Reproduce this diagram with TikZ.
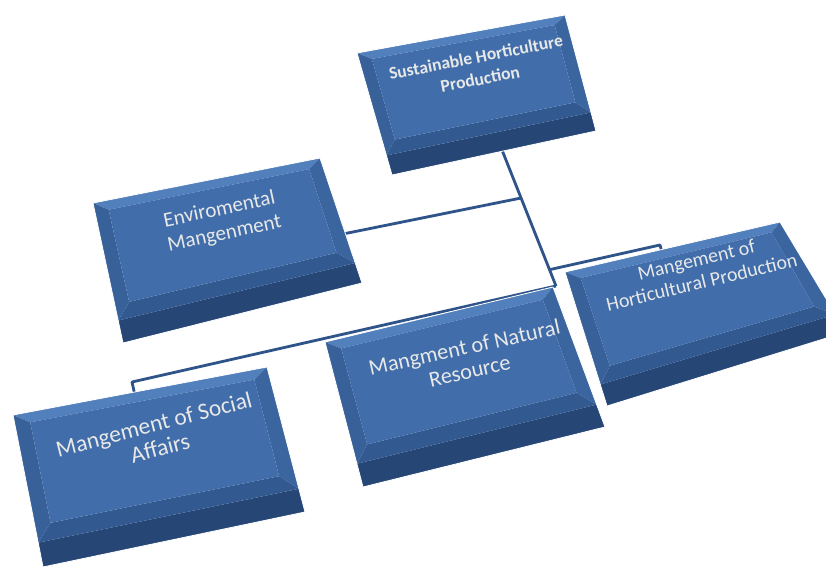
\documentclass[tikz,border=0pt]{standalone}
\usepackage{fontspec}
\setmainfont{Carlito}
\usetikzlibrary{calc}
\definecolor{bxface}{RGB}{65,110,170}
\definecolor{bxtop}{RGB}{82,128,188}
\definecolor{bxright}{RGB}{59,101,159}
\definecolor{bxleft}{RGB}{56,97,154}
\definecolor{bxbot}{RGB}{50,89,144}
\definecolor{bxdark}{RGB}{38,70,117}
\definecolor{bxline}{RGB}{46,84,137}
\definecolor{lbltext}{RGB}{232,232,232}
\tikzset{
  facefill/.style={fill=bxface},
  frontfill/.style={fill=bxdark},
  rim/.style={draw=white, line width=0.7pt, line join=round},
  conn/.style={draw=bxline, line width=2.4pt, line join=round},
  lbl/.style={text=lbltext, align=center, inner sep=0pt},
}
% #1 name, #2..#5 corners tl, tr, br, bl (pixels)
\newcommand{\bevbox}[5]{%
  \coordinate (#1-tl) at #2;
  \coordinate (#1-tr) at #3;
  \coordinate (#1-br) at #4;
  \coordinate (#1-bl) at #5;
  \coordinate (#1-fl) at ($(#1-bl)!0.16!(#1-tl)$);
  \coordinate (#1-fr) at ($(#1-br)!0.16!(#1-tr)$);
  \coordinate (#1-itl) at ($(#1-tl)!0.06!(#1-tr) + 0.08*(#1-fl) - 0.08*(#1-tl)$);
  \coordinate (#1-itr) at ($(#1-tr)!0.06!(#1-tl) + 0.08*(#1-fr) - 0.08*(#1-tr)$);
  \coordinate (#1-ifr) at ($(#1-fr)!0.06!(#1-fl) + 0.13*(#1-tr) - 0.13*(#1-fr)$);
  \coordinate (#1-ifl) at ($(#1-fl)!0.06!(#1-fr) + 0.13*(#1-tl) - 0.13*(#1-fl)$);
  \fill[frontfill] (#1-fl) -- (#1-fr) -- (#1-br) -- (#1-bl) -- cycle;
  \fill[bxtop] (#1-tl) -- (#1-tr) -- (#1-itr) -- (#1-itl) -- cycle;
  \fill[bxright] (#1-tr) -- (#1-fr) -- (#1-ifr) -- (#1-itr) -- cycle;
  \fill[bxbot] (#1-fr) -- (#1-fl) -- (#1-ifl) -- (#1-ifr) -- cycle;
  \fill[bxleft] (#1-fl) -- (#1-tl) -- (#1-itl) -- (#1-ifl) -- cycle;
  \fill[facefill] (#1-itl) -- (#1-itr) -- (#1-ifr) -- (#1-ifl) -- cycle;
  \draw[rim] (#1-tl) -- (#1-tr) -- (#1-br) -- (#1-bl) -- cycle;
}

\begin{document}
\begin{tikzpicture}[x=0.03cm, y=-0.03cm]
  \clip (0,0) rectangle (826,568);
  \fill[white] (0,0) rectangle (826,568);

  % connectors first, boxes sit on top
  \coordinate (trunk-a) at (502,150);
  \coordinate (trunk-b) at (556,286);
  \coordinate (j-env) at ($(trunk-a)!0.353!(trunk-b)$);
  \coordinate (j-hor) at ($(trunk-a)!0.88!(trunk-b)$);
  \coordinate (env-in) at (338,235);
  \coordinate (hor-k) at (660,245);
  \coordinate (hor-in) at (663,256);
  \coordinate (soc-k) at (132,382);
  \coordinate (soc-in) at (136,400);
  \draw[conn] (trunk-a) -- (trunk-b);
  \draw[conn] (j-env) -- (env-in);
  \draw[conn] (j-hor) -- (hor-k) -- (hor-in);
  \draw[conn] (trunk-b) -- (soc-k) -- (soc-in);

  \bevbox{sus}{(357,53)}{(565,15)}{(596,131)}{(392,175)}
  \bevbox{env}{(93,203)}{(320,158)}{(362,283)}{(123,343)}
  \bevbox{hor}{(565,272)}{(780,222)}{(846,332)}{(607,406)}
  \bevbox{nat}{(325,342)}{(553,287)}{(605,427)}{(363,487)}
  \bevbox{soc}{(13,415)}{(267,367)}{(305,512)}{(43,567)}

  \node[lbl, rotate=11, font=\fontsize{15}{19}\bfseries] (sus) at (478,68) {Sustainable Horticulture\\Production};
  \node[lbl, rotate=12, font=\fontsize{18}{21}\selectfont] (env) at (222,222) {Enviromental\\Mangenment};
  \node[lbl, rotate=13.5, font=\fontsize{17}{19.5}\selectfont] (hor) at (699,271) {Mangement of\\Horticultural Production};
  \node[lbl, rotate=12.5, font=\fontsize{19}{20.5}\selectfont] (nat) at (467,359) {Mangment of Natural\\Resource};
  \node[lbl, rotate=14.5, font=\fontsize{20}{21}\selectfont] (soc) at (157,436) {Mangement of Social\\Affairs};
\end{tikzpicture}
\end{document}
